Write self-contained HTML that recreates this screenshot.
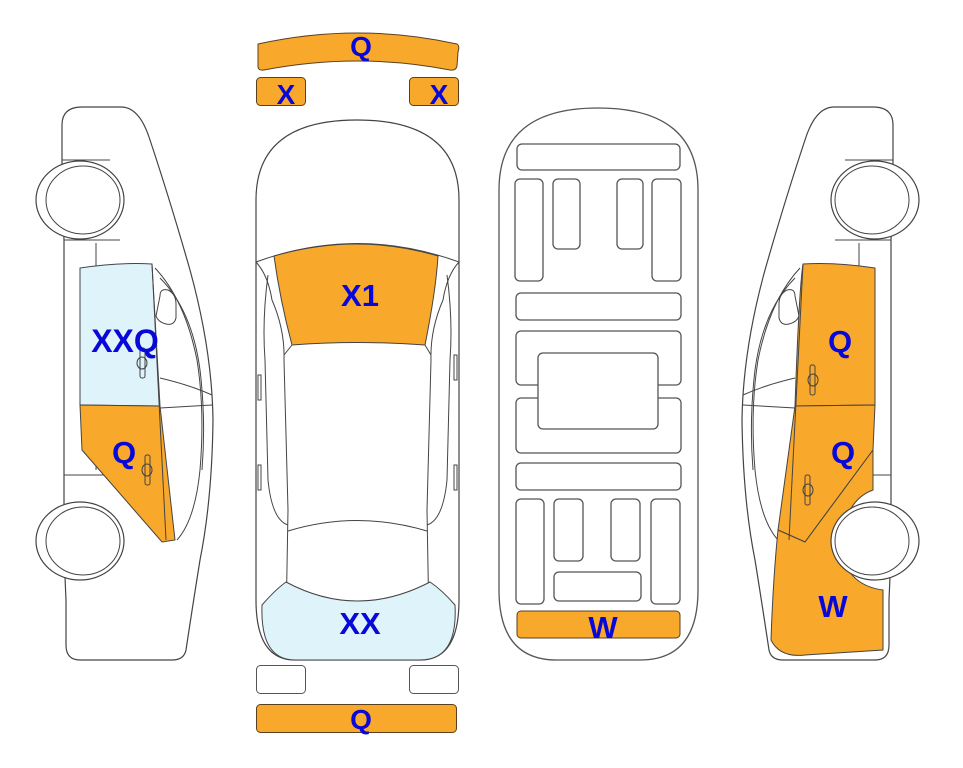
<!DOCTYPE html>
<html><head><meta charset="utf-8"><style>
html,body{margin:0;padding:0;background:#fff;width:963px;height:768px;overflow:hidden}
text{font-family:"Liberation Sans",Arial,sans-serif;font-weight:bold;fill:#0808d8}
</style></head><body>
<svg width="963" height="768" viewBox="0 0 963 768" xmlns="http://www.w3.org/2000/svg">
<defs>
<g id="side">
  <path d="M62,125 Q62,107 82,107 L122,107 Q140,108 150,140 Q170,200 190,270 Q212,350 213,420 Q212,500 200,560 Q192,610 186,650 Q184,660 172,660 L80,660 Q66,660 66,645 L66,600 Q64,560 64,520 L64,240 Q62,200 62,160 Z" fill="#fff" stroke="#444" stroke-width="1.2"/>
  <path d="M64,240 L120,240 M64,475 L120,475 M64,505 L64,555" fill="none" stroke="#444" stroke-width="1"/>
  <path d="M96,243 L96,470" fill="none" stroke="#444" stroke-width="1"/>
  <path d="M62,160 L110,160" stroke="#444" stroke-width="1"/>
  <path d="M155,268 Q185,300 197,360 Q205,410 200,470 Q195,520 177,540" fill="none" stroke="#444" stroke-width="1"/>
  <path d="M160,278 Q192,310 200,370 Q206,420 202,470" fill="none" stroke="#444" stroke-width="1"/>
  <path d="M160,378 Q190,385 212,395 M160,408 L212,405" fill="none" stroke="#444" stroke-width="1"/>
  <path d="M160,296 Q160,288 168,290 Q176,294 176,304 L176,318 Q174,326 166,324 Q158,322 156,316 Z" fill="#fff" stroke="#444" stroke-width="1"/>
</g>
</defs>

<!-- LEFT SIDE CAR -->
<use href="#side"/>
<path d="M80,268 Q120,262 152,264 L160,406 L80,405 Z" fill="#dff3fb" stroke="#444" stroke-width="1"/>
<path d="M80,405 L160,406 L175,540 L162,542 L82,450 Z" fill="#f8a82b" stroke="#444" stroke-width="1"/>
<path d="M152,264 L166,540" stroke="#444" stroke-width="1"/>
<g fill="none" stroke="#444" stroke-width="1"><rect x="140" y="348" width="5" height="30" rx="2"/><ellipse cx="142" cy="363" rx="5" ry="6"/><rect x="145" y="455" width="5" height="30" rx="2"/><ellipse cx="147" cy="470" rx="5" ry="6"/></g>
<g fill="#fff" stroke="#444" stroke-width="1.2"><ellipse cx="80" cy="200" rx="44" ry="39"/><ellipse cx="80" cy="541" rx="44" ry="39"/></g>
<g fill="none" stroke="#444" stroke-width="1"><ellipse cx="83" cy="200" rx="37" ry="34"/><ellipse cx="83" cy="541" rx="37" ry="34"/></g>
<text x="125" y="352" font-size="32" text-anchor="middle">XXQ</text>
<text x="124" y="463" font-size="31" text-anchor="middle">Q</text>

<!-- RIGHT SIDE CAR -->
<g transform="translate(955,0) scale(-1,1)">
  <use href="#side"/>
  <path d="M80,268 Q120,262 152,264 Q156,290 160,406 L80,405 Z" fill="#f8a82b" stroke="#444" stroke-width="1"/>
  <path d="M80,405 L160,406 L177,530 L150,542 L82,450 Z" fill="#f8a82b" stroke="#444" stroke-width="1"/>
  <path d="M82,450 L150,542 L177,530 Q182,580 184,640 Q175,658 150,655 L72,650 L72,590 Q110,585 115,545 Q110,500 82,490 Z" fill="#f8a82b" stroke="#444" stroke-width="1"/>
  <path d="M152,264 L166,540" stroke="#444" stroke-width="1"/>
  <g fill="none" stroke="#444" stroke-width="1"><rect x="140" y="365" width="5" height="30" rx="2"/><ellipse cx="142" cy="380" rx="5" ry="6"/><rect x="145" y="475" width="5" height="30" rx="2"/><ellipse cx="147" cy="490" rx="5" ry="6"/></g>
  <g fill="#fff" stroke="#444" stroke-width="1.2"><ellipse cx="80" cy="200" rx="44" ry="39"/><ellipse cx="80" cy="541" rx="44" ry="39"/></g>
  <g fill="none" stroke="#444" stroke-width="1"><ellipse cx="83" cy="200" rx="37" ry="34"/><ellipse cx="83" cy="541" rx="37" ry="34"/></g>
</g>
<text x="840" y="352" font-size="31" text-anchor="middle">Q</text>
<text x="843" y="463" font-size="31" text-anchor="middle">Q</text>
<text x="833" y="617" font-size="31" text-anchor="middle">W</text>

<!-- TOP VIEW CAR -->
<path d="M258,44 Q358,22 457,44 Q460,46 458,52 L457,66 Q456,71 450,70 Q358,52 264,70 Q258,71 258,66 Z" fill="#f8a82b" stroke="#5a4020" stroke-width="1"/>
<rect x="256.5" y="77.5" width="49" height="28" rx="4" fill="#f8a82b" stroke="#5a4020"/>
<rect x="409.5" y="77.5" width="49" height="28" rx="4" fill="#f8a82b" stroke="#5a4020"/>
<text x="361" y="56" font-size="28" text-anchor="middle">Q</text>
<text x="286" y="104" font-size="28" text-anchor="middle">X</text>
<text x="439" y="104" font-size="28" text-anchor="middle">X</text>

<path d="M256,200 Q256,120 357,120 Q459,120 459,200 L459,600 Q459,660 420,660 L295,660 Q256,660 256,600 Z" fill="#fff" stroke="#444" stroke-width="1.2"/>
<path d="M256,262 Q357,225 459,262" fill="none" stroke="#444"/>
<path d="M274,256 Q357,232 438,256 Q436,290 425,345 Q357,340 292,345 Q280,300 274,256 Z" fill="#f8a82b" stroke="#444" stroke-width="1"/>
<path d="M256,262 Q268,275 272,300 Q285,330 284,360 L288,510 L286,625 M292,345 L284,355" fill="none" stroke="#444"/>
<path d="M459,262 Q447,275 443,300 Q430,330 431,360 L427,510 L429,625 M425,345 L431,355" fill="none" stroke="#444"/>
<path d="M268,275 Q262,320 265,360 L268,480 Q272,520 288,525 M447,275 Q453,320 450,360 L447,480 Q443,520 427,525" fill="none" stroke="#444"/>
<path d="M288,531 Q357,510 427,531" fill="none" stroke="#444"/>
<path d="M258,375 L258,400 L261,400 L261,375 Z M258,465 L258,490 L261,490 L261,465 Z M454,355 L454,380 L457,380 L457,355 Z M454,465 L454,490 L457,490 L457,465 Z" fill="#fff" stroke="#444"/>
<path d="M262,605 Q275,590 286,582 Q357,620 430,582 Q442,590 455,605 Q458,660 420,660 L295,660 Q260,660 262,605 Z" fill="#dff3fb" stroke="#444" stroke-width="1"/>
<text x="360" y="634" font-size="31" text-anchor="middle">XX</text>
<text x="360" y="306" font-size="31" text-anchor="middle">X1</text>
<rect x="256.5" y="665.5" width="49" height="28" rx="4" fill="#fff" stroke="#555"/>
<rect x="409.5" y="665.5" width="49" height="28" rx="4" fill="#fff" stroke="#555"/>
<rect x="256.5" y="704.5" width="200" height="28" rx="4" fill="#f8a82b" stroke="#5a4020"/>
<text x="361" y="729" font-size="28" text-anchor="middle">Q</text>

<!-- UNDERBODY -->
<g fill="#fff" stroke="#555" stroke-width="1.3">
<path d="M499,190 Q499,108 598,108 Q698,108 698,190 L698,590 Q698,660 640,660 L557,660 Q499,660 499,590 Z"/>
<rect x="517" y="144" width="163" height="26" rx="5"/>
<rect x="515" y="179" width="28" height="102" rx="5"/>
<rect x="553" y="179" width="27" height="70" rx="5"/>
<rect x="617" y="179" width="26" height="70" rx="5"/>
<rect x="652" y="179" width="29" height="102" rx="5"/>
<rect x="516" y="293" width="165" height="27" rx="5"/>
<rect x="516" y="331" width="165" height="54" rx="5"/>
<rect x="516" y="398" width="165" height="55" rx="5"/>
<rect x="538" y="353" width="120" height="76" rx="5"/>
<rect x="516" y="463" width="165" height="27" rx="5"/>
<rect x="516" y="499" width="28" height="105" rx="5"/>
<rect x="554" y="499" width="29" height="62" rx="5"/>
<rect x="611" y="499" width="29" height="62" rx="5"/>
<rect x="651" y="499" width="29" height="105" rx="5"/>
<rect x="554" y="572" width="87" height="29" rx="5"/>
</g>
<rect x="517" y="611" width="163" height="27" rx="4" fill="#f8a82b" stroke="#5a4020"/>
<text x="603" y="638" font-size="31" text-anchor="middle">W</text>
</svg>
</body></html>
